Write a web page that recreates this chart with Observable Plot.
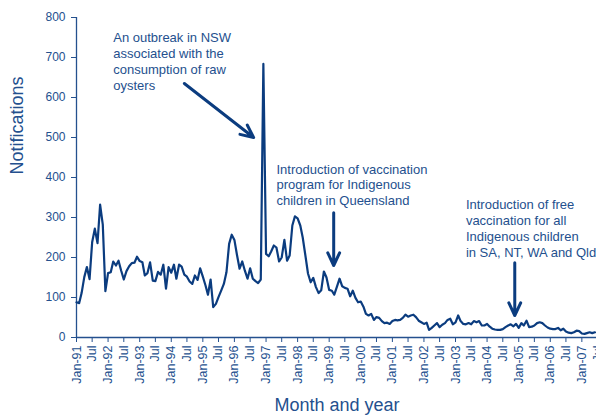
<!DOCTYPE html>
<html><head><meta charset="utf-8">
<script src="https://cdn.jsdelivr.net/npm/d3@7"></script>
<script src="https://cdn.jsdelivr.net/npm/@observablehq/plot@0.6"></script>
<style>
html,body{margin:0;padding:0;background:#fff;overflow:hidden;width:596px;height:416px}
#chart svg{max-width:none !important}
</style>
</head><body><div id="chart"></div>
<script>
// Monthly notifications, Jan-91 onward
const notifications = [
  88,86,111,151,176,146,238,272,236,332,
  282,116,161,163,190,180,192,167,145,166,
  178,186,187,202,191,188,155,161,188,142,
  141,164,157,182,122,176,162,182,147,182,
  177,157,152,140,134,155,144,173,152,130,
  107,145,76,84,101,117,134,163,234,257,
  244,205,172,190,167,147,173,147,141,136,
  145,684,209,203,215,230,225,190,200,244,
  192,205,280,303,298,280,250,205,160,138,
  149,126,111,118,165,150,119,117,107,127,
  147,128,124,122,103,117,99,88,90,77,
  59,55,59,44,51,49,41,36,37,34,
  41,44,43,44,49,57,52,55,57,51,
  42,38,34,37,19,24,30,36,26,32,
  36,44,47,33,38,55,41,34,33,36,
  33,41,38,41,30,30,34,27,22,20,
  19,19,21,26,30,33,28,34,24,36,
  30,42,26,27,30,36,38,36,30,25,
  22,21,21,24,18,22,15,12,11,13,
  17,16,10,9,11,13,11,13
];
const startYear = 1991;
const yTicks = [0,100,200,300,400,500,600,700,800];
const janPrefix = "Jan-";
const julLabel = "Jul";

// Annotations (month index from Jan-91, value)
const noteTexts = [
  "An outbreak in NSW\nassociated with the\nconsumption of raw\noysters",
  "Introduction of vaccination\nprogram for Indigenous\nchildren in Queensland",
  "Introduction of free\nvaccination for all\nIndigenous children\nin SA, NT, WA and Qld"
];
const noteMonth = [14, 76, 148];
const noteValue = [767, 438, 349];
const arrowMonth1 = [41, 97.7, 166.5];
const arrowValue1 = [635, 312, 187];
const arrowMonth2 = [67.3, 97.7, 166.5];
const arrowValue2 = [500, 180, 55];

const monthDate = m => {
  const f = Math.floor(m);
  return new Date(Date.UTC(startYear, f, 1) + (m - f) * 30.44 * 864e5);
};
const series = notifications.map((v, i) => ({date: monthDate(i), value: v}));
const notes = noteTexts.map((t, i) => ({text: t, date: monthDate(noteMonth[i]), value: noteValue[i]}));
const arrows = arrowMonth1.map((m, i) => ({
  x1: monthDate(m), y1: arrowValue1[i], x2: monthDate(arrowMonth2[i]), y2: arrowValue2[i]
}));
const xStart = monthDate(0);
const xEnd = monthDate(198);
const xTicks = d3.range(0, 199, 6).map(monthDate);
const fmt = d => d.getUTCMonth() === 0 ? janPrefix + String(d.getUTCFullYear()).slice(2) : julLabel;

const navy = "#0b3c7f";
const textCol = "#24508e";

const chart = Plot.plot({
  width: 604, height: 416,
  marginLeft: 76, marginRight: 7, marginTop: 17, marginBottom: 79,
  style: {fontFamily: "Liberation Sans, Arial, sans-serif", background: "white", color: textCol, maxWidth: "none"},
  x: {type: "utc", domain: [xStart, xEnd]},
  y: {domain: [0, 800]},
  marks: [
    Plot.axisY({ticks: yTicks, tickSize: 5, tickPadding: 6, fontSize: 12, label: null, color: textCol}),
    Plot.axisX({ticks: xTicks, tickFormat: fmt, tickRotate: -90, tickSize: 5, tickPadding: 3, fontSize: 12.5, label: null, color: textCol}),
    Plot.ruleY([0], {stroke: textCol, strokeWidth: 1.3}),
    Plot.ruleX([xStart], {stroke: textCol, strokeWidth: 1.3}),
    Plot.line(series, {x: "date", y: "value", stroke: navy, strokeWidth: 2.2, strokeLinejoin: "round"}),
    Plot.arrow(arrows, {x1: "x1", y1: "y1", x2: "x2", y2: "y2", stroke: navy, strokeWidth: 3, headLength: 7, headAngle: 50}),
    Plot.text(notes, {x: "date", y: "value", text: "text", textAnchor: "start", lineAnchor: "top", lineHeight: 1.22, fontSize: 13, fill: textCol}),
    Plot.text(["Month and year"], {frameAnchor: "bottom", dy: 68, lineAnchor: "middle", fontSize: 18, fill: textCol}),
    Plot.text(["Notifications"], {frameAnchor: "left", dx: -59, dy: -3, rotate: -90, lineAnchor: "middle", fontSize: 18, fill: textCol})
  ]
});
chart.style.maxWidth = "none";
document.getElementById("chart").appendChild(chart);
</script>
</body></html>
